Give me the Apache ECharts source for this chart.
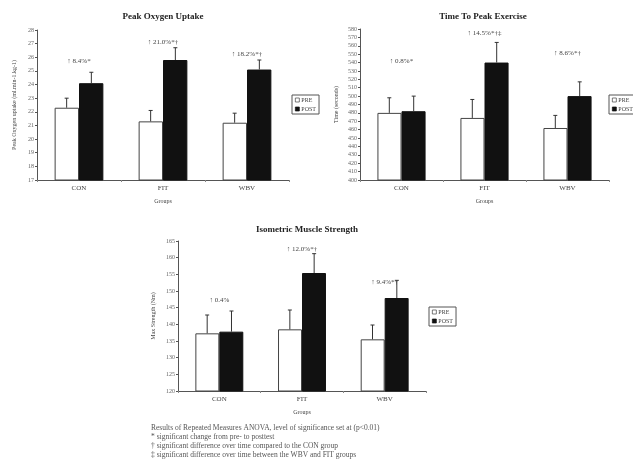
<!DOCTYPE html>
<html>
<head>
<meta charset="utf-8">
<script src="https://cdn.jsdelivr.net/npm/echarts@6/dist/echarts.min.js"></script>
<style>
  html, body { margin: 0; padding: 0; background: #fff; }
  #chart { width: 633px; height: 466px; }
</style>
</head>
<body>
<div id="chart"></div>
<script>
const categories = ['CON', 'FIT', 'WBV'];

// Peak Oxygen Uptake
const vo2Pre = [22.3, 21.3, 21.2];
const vo2Post = [24.1, 25.8, 25.1];
const vo2PreSd = [0.7, 0.8, 0.7];
const vo2PostSd = [0.8, 0.9, 0.7];
const vo2Notes = ['↑ 8.4%*', '↑ 21.0%*†', '↑ 18.2%*†'];
const vo2NoteAt = [25.7, 27.1, 26.2];

// Time To Peak Exercise
const timePre = [480, 474, 462];
const timePost = [482, 540, 500];
const timePreSd = [18, 22, 15];
const timePostSd = [18, 24, 17];
const timeNotes = ['↑ 0.8%*', '↑ 14.5%*†‡', '↑ 8.6%*†'];
const timeNoteAt = [542, 575, 551];

// Isometric Muscle Strength
const strPre = [137.3, 138.5, 135.5];
const strPost = [137.8, 155.4, 147.9];
const strPreSd = [5.5, 5.8, 4.3];
const strPostSd = [6.2, 5.8, 5.3];
const strNotes = ['↑ 0.4%', '↑ 12.0%*†', '↑ 9.4%*†'];
const strNoteAt = [147.3, 162.5, 152.7];

const footnotes = [
  'Results of Repeated Measures ANOVA, level of significance set at (p<0.01)',
  '* significant change from pre- to posttest',
  '† significant difference over time compared to the CON group',
  '‡ significant difference over time between the WBV and FIT groups'
];

const FONT = '"Liberation Serif", "DejaVu Serif", serif';
const TXT = '#444';

const panels = [
  { title: 'Peak Oxygen Uptake', yName: 'Peak Oxygen uptake (ml.min-1.kg-1)', min: 17, max: 28, step: 1,
    pre: vo2Pre, post: vo2Post, preSd: vo2PreSd, postSd: vo2PostSd, notes: vo2Notes, noteAt: vo2NoteAt,
    grid: { left: 37, top: 30, width: 252, height: 150 }, nameGap: 20,
    titlePos: [163, 17], legend: { left: 292, top: 95 } },
  { title: 'Time To Peak Exercise', yName: 'Time (seconds)', min: 400, max: 580, step: 10,
    pre: timePre, post: timePost, preSd: timePreSd, postSd: timePostSd, notes: timeNotes, noteAt: timeNoteAt,
    grid: { left: 360, top: 29, width: 249, height: 151 }, nameGap: 21,
    titlePos: [483, 17], legend: { left: 609, top: 95 } },
  { title: 'Isometric Muscle Strength', yName: 'Max Strength (Nm)', min: 120, max: 165, step: 5,
    pre: strPre, post: strPost, preSd: strPreSd, postSd: strPostSd, notes: strNotes, noteAt: strNoteAt,
    grid: { left: 178, top: 241, width: 248, height: 150 }, nameGap: 22,
    titlePos: [307, 230], legend: { left: 429, top: 307 } }
];

const chart = echarts.init(document.getElementById('chart'));

const grids = [], xAxes = [], yAxes = [], series = [], legends = [], graphics = [];

function errorBar(side) {
  return function (params, api) {
    const i = api.value(0);
    const band = api.size([1, 0])[0];
    const dx = side * band * 0.147;
    const base = api.coord([i, api.value(1)]);
    const top = api.coord([i, api.value(2)]);
    const x = base[0] + dx;
    const style = { stroke: '#333', lineWidth: 1 };
    return {
      type: 'group',
      children: [
        { type: 'line', shape: { x1: x, y1: base[1], x2: x, y2: top[1] }, style: style },
        { type: 'line', shape: { x1: x - 2, y1: top[1], x2: x + 2, y2: top[1] }, style: style }
      ]
    };
  };
}

panels.forEach(function (p, k) {
  grids.push(p.grid);
  xAxes.push({
    type: 'category', gridIndex: k, data: categories,
    name: 'Groups', nameLocation: 'middle', nameGap: 18,
    nameTextStyle: { fontFamily: FONT, fontSize: 6, color: TXT },
    axisLine: { lineStyle: { color: '#555', width: 1 } },
    axisTick: { show: true, length: 2, lineStyle: { color: '#888' } },
    axisLabel: { fontFamily: FONT, fontSize: 7, color: TXT, margin: 5 }
  });
  yAxes.push({
    type: 'value', gridIndex: k, min: p.min, max: p.max, interval: p.step,
    name: p.yName, nameLocation: 'middle', nameGap: p.nameGap,
    nameTextStyle: { fontFamily: FONT, fontSize: 6, color: TXT },
    axisLine: { show: true, lineStyle: { color: '#555', width: 1 } },
    axisTick: { show: true, length: 2, lineStyle: { color: '#555' } },
    axisLabel: { fontFamily: FONT, fontSize: 6, color: '#666', margin: 3 },
    splitLine: { show: false }
  });
  series.push({
    name: 'PRE', type: 'bar', xAxisIndex: k, yAxisIndex: k, data: p.pre,
    barWidth: '29%', barGap: '0%',
    itemStyle: { color: '#fff', borderColor: '#444', borderWidth: 1 }
  });
  series.push({
    name: 'POST', type: 'bar', xAxisIndex: k, yAxisIndex: k, data: p.post,
    barWidth: '29%', barGap: '0%',
    itemStyle: { color: '#111', borderColor: '#111', borderWidth: 1 }
  });
  series.push({
    type: 'custom', xAxisIndex: k, yAxisIndex: k, z: 3, silent: true,
    renderItem: errorBar(-1),
    data: p.pre.map(function (v, i) { return [i, v, v + p.preSd[i]]; })
  });
  series.push({
    type: 'custom', xAxisIndex: k, yAxisIndex: k, z: 3, silent: true,
    renderItem: errorBar(1),
    data: p.post.map(function (v, i) { return [i, v, v + p.postSd[i]]; })
  });
  series.push({
    type: 'custom', xAxisIndex: k, yAxisIndex: k, z: 4, silent: true,
    renderItem: function (params, api) {
      const c = api.coord([api.value(0), api.value(1)]);
      return {
        type: 'text', x: c[0], y: c[1],
        style: { text: p.notes[params.dataIndex], fill: TXT, font: '7px ' + FONT, align: 'center', verticalAlign: 'middle' }
      };
    },
    data: p.noteAt.map(function (v, i) { return [i, v]; })
  });
  legends.push({
    left: p.legend.left, top: p.legend.top, orient: 'vertical',
    data: ['PRE', 'POST'], icon: 'rect', itemWidth: 4, itemHeight: 4, itemGap: 3,
    padding: [2, 3], borderColor: '#555', borderWidth: 1,
    itemStyle: { borderWidth: 0.7 },
    textStyle: { fontFamily: FONT, fontSize: 6, color: TXT, padding: [0, 0, 0, -3] },
    selectedMode: false
  });
  graphics.push({
    type: 'text', x: p.titlePos[0], y: p.titlePos[1],
    style: { text: p.title, fill: '#222', font: 'bold 9px ' + FONT, align: 'center', verticalAlign: 'middle' }
  });
});

footnotes.forEach(function (t, i) {
  graphics.push({
    type: 'text', x: 151, y: 428 + i * 9,
    style: { text: t, fill: '#555', font: '7.5px ' + FONT, align: 'left', verticalAlign: 'middle' }
  });
});

chart.setOption({
  backgroundColor: '#fff',
  animation: false,
  grid: grids,
  xAxis: xAxes,
  yAxis: yAxes,
  legend: legends,
  series: series,
  graphic: graphics
});
</script>
</body>
</html>
